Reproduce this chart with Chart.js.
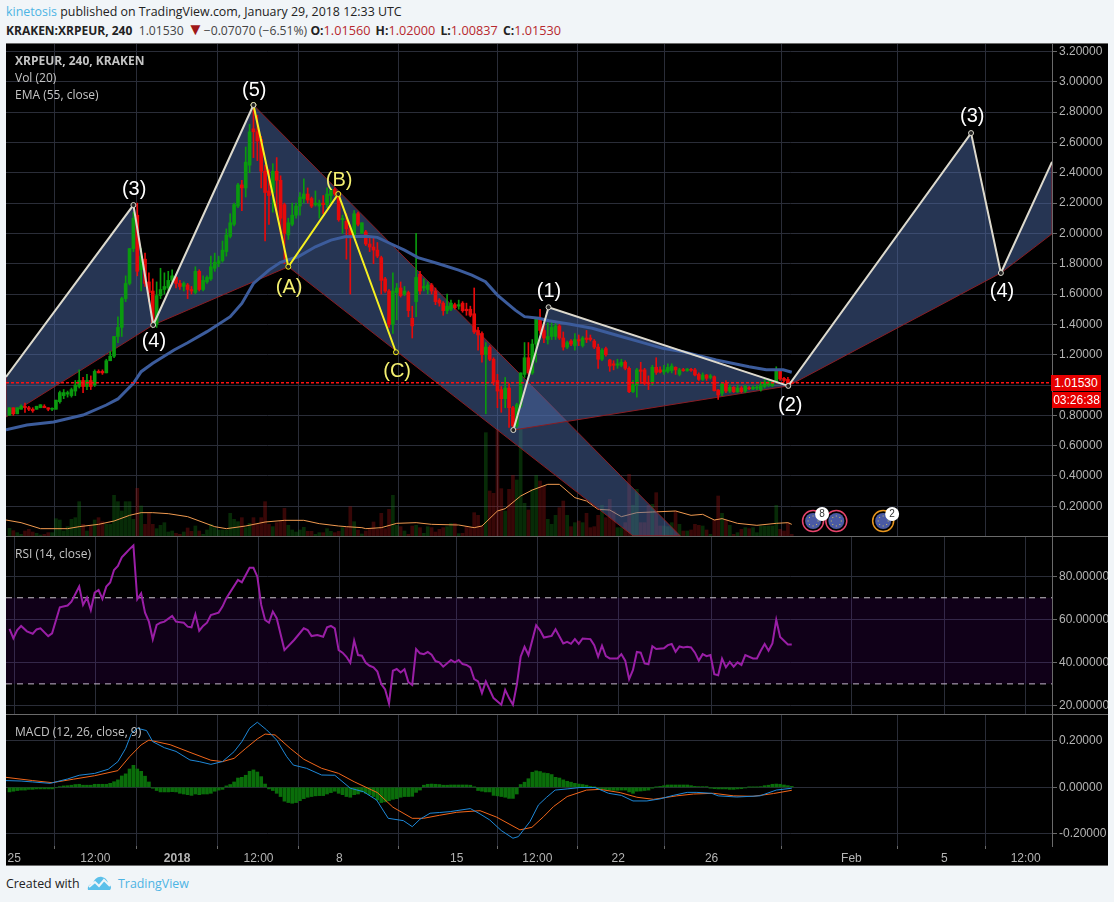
<!DOCTYPE html>
<html>
<head>
<meta charset="utf-8">
<title>XRPEUR</title>
<script src="https://cdn.jsdelivr.net/npm/chart.js@4"></script>
<style>
html, body { margin: 0; padding: 0; background: #f1f5f8; width: 1114px; height: 902px; overflow: hidden; }
body { position: relative; font-family: "Open Sans", sans-serif; font-size: 12.4px; color: #222; }
.abs { position: absolute; white-space: nowrap; }
#board { position: absolute; left: 6px; top: 43px; width: 1102px; height: 822px; background: #000; }
canvas { position: absolute; left: 6px; }
.sep { position: absolute; left: 6px; width: 1102px; height: 1px; background: #6a6a6a; }
.leg { color: #c4c4c4; font-size: 12px; }
.box { background: #e60000; color: #fff; font: 12px "Liberation Sans", sans-serif; text-align: center; }
.red { color: #b7282e; font-size: 12.7px; margin-right: 2px; }
.gray { color: #444; }
</style>
</head>
<body>
<div class="abs" style="left:6px;top:3px"><span style="color:#4db4e4">kinetosis</span> published on TradingView.com, January 29, 2018 12:33 UTC</div>
<div class="abs" style="left:6px;top:21px;font-size:12.2px"><b style="font-size:12px">KRAKEN:XRPEUR, 240</b> &nbsp;<span class="gray">1.01530</span> <span style="color:#a01818;font-size:17px;line-height:12px">&#9660;</span><span class="gray">&minus;0.07070 (&minus;6.51%)</span> <b>O:</b><span class="red">1.01560</span> <b>H:</b><span class="red">1.02000</span> <b>L:</b><span class="red">1.00837</span> <b>C:</b><span class="red">1.01530</span></div>

<div id="board"></div>
<canvas id="mainPane" width="1102" height="493" style="top:43px"></canvas>
<canvas id="rsiPane" width="1102" height="178" style="top:536px"></canvas>
<canvas id="macdPane" width="1102" height="151" style="top:714px"></canvas>
<div class="sep" style="top:43px"></div>
<div class="sep" style="top:536px"></div>
<div class="sep" style="top:714px"></div>
<div class="sep" style="top:865px"></div>

<div class="abs leg" style="left:15px;top:52px"><b>XRPEUR, 240, KRAKEN</b></div>
<div class="abs leg" style="left:15px;top:69px">Vol (20)</div>
<div class="abs leg" style="left:15px;top:86px">EMA (55, close)</div>
<div class="abs leg" style="left:15px;top:545px">RSI (14, close)</div>
<div class="abs leg" style="left:15px;top:723px">MACD (12, 26, close, 9)</div>

<div class="abs box" style="left:1051px;top:375px;width:50px;height:16px;line-height:16px">1.01530</div>
<div class="abs box" style="left:1052px;top:392px;width:49px;height:16px;line-height:16px">03:26:38</div>

<div class="abs" style="left:6px;top:875px">Created with</div>
<svg class="abs" style="left:87px;top:875px" width="25" height="16" viewBox="0 0 25 16"><path d="M1 15 C0 11 3 9 6 9 C7 4 11 1 15 2 C19 3 21 6 21 9 C24 10 25 13 23 15 Z" fill="#5cc0ea"/><path d="M2 12 L8 7 L12 11 L17 5 L23 11" fill="none" stroke="#f1f5f8" stroke-width="2"/></svg>
<div class="abs" style="left:118px;top:875px;color:#4db4e4">TradingView</div>

<script>
// candles, one per 4h bar
const opens = [
  .80,.85,.81,.84,.86,.85,.84,.84,.85,.86,
  .85,.84,.84,.89,.93,.94,.93,.96,.99,1.03,
  .99,1.03,1.0,1.09,1.09,1.08,1.16,1.19,1.32,1.38,
  1.57,1.67,1.90,2.12,1.76,1.83,1.68,1.62,1.40,1.59,
  1.63,1.64,1.69,1.71,1.67,1.65,1.66,1.63,1.61,1.75,
  1.63,1.68,1.70,1.77,1.80,1.82,1.88,1.98,2.06,2.18,
  2.32,2.30,2.45,2.69,2.67,2.62,2.41,2.28,2.27,2.41,
  2.35,2.19,1.99,2.06,2.12,2.18,2.23,2.26,2.23,2.19,
  2.18,2.2,2.19,2.25,2.29,2.26,2.09,2.08,2.03,1.98,
  2.13,2.0,2.01,1.93,1.91,1.89,1.84,1.7,1.62,1.4,
  1.61,1.64,1.6,1.61,1.44,1.55,1.73,1.64,1.63,1.66,
  1.62,1.56,1.54,1.49,1.5,1.53,1.52,1.54,1.5,1.5,
  1.47,1.36,1.34,1.2,1.25,1.17,1.03,.97,.91,.98,
  .85,.73,.86,1.07,1.18,1.08,1.27,1.44,1.36,1.3,
  1.32,1.32,1.39,1.31,1.25,1.29,1.26,1.3,1.26,1.31,
  1.31,1.29,1.25,1.17,1.24,1.165,1.14,1.13,1.13,1.15,
  1.11,.956,1.0,1.1,1.1,1.015,1.02,1.117,1.1,1.086,
  1.09,1.095,1.117,1.07,1.1,1.095,1.1,1.1,1.07,1.037,
  1.066,1.05,1.055,.967,.945,1.01,.96,.985,.956,.98,
  .96,.98,.975,.98,.97,.99,1.0,.995,1.02,1.09,
  1.044,1.037,1.0156
];
const highs = [
  .85,.85,.85,.87,.88,.86,.85,.86,.87,.87,
  .85,.85,.90,.96,.97,.96,.98,1.03,1.10,1.05,
  1.07,1.06,1.10,1.10,1.10,1.17,1.22,1.32,1.45,1.58,
  1.72,1.90,2.14,2.20,1.90,1.87,1.74,1.70,1.68,1.77,
  1.74,1.75,1.76,1.73,1.69,1.68,1.67,1.65,1.78,1.76,
  1.72,1.72,1.85,1.87,1.85,1.95,2.03,2.13,2.20,2.33,
  2.35,2.57,2.72,2.84,2.78,2.64,2.45,2.42,2.46,2.50,
  2.38,2.2,2.1,2.2,2.2,2.27,2.36,2.3,2.24,2.28,
  2.22,2.25,2.3,2.3,2.3,2.27,2.12,2.13,2.05,2.15,
  2.14,2.07,2.02,1.97,1.97,1.94,1.85,1.71,1.63,1.74,
  1.67,1.68,1.65,1.62,1.52,2.0,1.75,1.7,1.68,1.67,
  1.64,1.57,1.55,1.6,1.56,1.54,1.56,1.55,1.54,1.52,
  1.64,1.38,1.35,1.28,1.26,1.18,1.07,.99,1.05,1.01,
  .86,.88,1.08,1.28,1.28,1.3,1.44,1.5,1.41,1.41,
  1.42,1.41,1.4,1.35,1.29,1.3,1.34,1.33,1.32,1.36,
  1.33,1.3,1.27,1.24,1.25,1.17,1.16,1.17,1.17,1.16,
  1.12,1.03,1.11,1.15,1.11,1.06,1.13,1.18,1.12,1.13,
  1.14,1.14,1.12,1.11,1.11,1.11,1.11,1.11,1.08,1.08,
  1.07,1.07,1.06,.97,1.01,1.03,1.0,.99,1.0,.99,
  1.0,.99,.995,1.0,1.02,1.04,1.04,1.03,1.12,1.1,
  1.05,1.05,1.02
];
const lows = [
  .80,.80,.81,.84,.82,.83,.82,.84,.85,.85,
  .83,.83,.84,.88,.91,.92,.92,.93,.98,.95,
  .97,.97,.99,1.08,1.07,1.08,1.16,1.18,1.28,1.32,
  1.55,1.66,1.88,1.72,1.62,1.65,1.55,1.39,1.38,1.57,
  1.60,1.62,1.67,1.64,1.63,1.62,1.57,1.60,1.60,1.62,
  1.62,1.67,1.69,1.75,1.78,1.81,1.85,1.97,2.05,2.17,
  2.15,2.24,2.40,2.50,2.48,2.30,1.95,2.06,2.14,2.13,
  2.00,1.8,1.96,2.05,2.1,2.12,2.2,2.2,2.17,2.18,
  2.1,2.13,2.17,2.2,2.25,2.08,2.0,1.83,1.6,1.97,
  2.05,2.0,1.92,1.88,1.8,1.84,1.6,1.61,1.38,1.34,
  1.43,1.58,1.59,1.45,1.31,1.45,1.6,1.62,1.6,1.6,
  1.53,1.52,1.46,1.47,1.49,1.5,1.5,1.48,1.46,1.45,
  1.34,1.23,1.15,.81,1.16,1.0,.85,.82,.85,.72,
  .71,.72,.85,1.05,1.07,1.07,1.15,1.34,1.28,1.27,
  1.3,1.3,1.3,1.23,1.24,1.26,1.23,1.26,1.25,1.28,
  1.29,1.24,1.11,1.16,1.19,1.09,1.1,1.11,1.12,1.1,
  .95,.95,.92,1.01,1.0,.97,1.0,1.07,1.08,1.07,
  1.08,1.08,1.07,1.06,1.09,1.09,1.09,1.06,1.03,1.03,
  1.03,1.04,.96,.905,.93,.95,.95,.95,.95,.95,
  .95,.97,.97,.97,.96,.98,.99,.99,1.02,1.03,
  1.02,1.0,1.00837
];
const closes = [
  .85,.81,.85,.86,.85,.84,.83,.86,.87,.85,
  .84,.84,.90,.95,.95,.95,.97,1.0,1.03,.99,
  1.03,.99,1.09,1.08,1.08,1.16,1.19,1.32,1.38,1.57,
  1.67,1.90,2.10,1.75,1.85,1.67,1.61,1.40,1.59,1.63,
  1.65,1.69,1.72,1.67,1.65,1.67,1.63,1.62,1.75,1.63,
  1.69,1.71,1.78,1.81,1.82,1.89,1.99,2.07,2.19,2.32,
  2.30,2.47,2.67,2.67,2.61,2.41,2.27,2.25,2.41,2.35,
  2.10,2.0,2.07,2.12,2.18,2.24,2.26,2.22,2.18,2.2,
  2.2,2.19,2.26,2.29,2.26,2.09,2.1,2.03,1.99,2.13,
  2.06,2.07,1.93,1.91,1.89,1.85,1.69,1.62,1.4,1.62,
  1.64,1.59,1.62,1.49,1.39,1.71,1.62,1.65,1.66,1.62,
  1.55,1.54,1.49,1.52,1.54,1.51,1.53,1.49,1.49,1.46,
  1.35,1.33,1.2,1.25,1.17,1.02,.96,.91,.98,.85,
  .73,.87,1.08,1.18,1.08,1.27,1.44,1.36,1.31,1.32,
  1.38,1.39,1.31,1.25,1.28,1.27,1.3,1.29,1.31,1.3,
  1.3,1.25,1.17,1.23,1.2,1.125,1.13,1.14,1.15,1.11,
  .956,1.0,1.1,1.09,1.01,1.007,1.117,1.083,1.086,1.1,
  1.117,1.125,1.1,1.1,1.095,1.105,1.097,1.066,1.037,1.066,
  1.044,1.06,.963,.934,1.007,.96,.985,.956,.98,.956,
  .993,.975,.985,.985,1.0,1.02,1.02,1.02,1.1,1.04,
  1.03,1.01,1.0153
];
// volume, arbitrary units (no volume scale on the chart)
const volumes = [
  23,16,10,5,15,20,12,8,3,5,10,10,
  52,48,15,28,50,55,103,35,15,30,48,55,43,35,35,122,103,75,103,103,50,143,
  90,35,68,35,22,32,40,12,15,8,5,12,24,14,30,15,5,18,35,25,
  18,18,18,68,50,43,55,25,38,55,35,55,103,35,28,40,45,83,32,18,
  12,18,26,14,14,5,10,10,22,14,10,14,25,28,88,43,18,6,15,22,
  42,20,68,22,80,122,32,28,15,5,30,32,
  25,8,28,25,12,20,25,28,38,38,7,8,28,25,70,62,30,310,135,128,
  320,142,75,140,182,168,320,98,78,140,182,165,150,50,35,62,85,105,62,28,
  40,45,40,68,25,28,62,92,55,110,75,25,25,40,185,92,140,40,40,92,
  95,130,30,30,28,40,75,35,15,15,18,35,32,30,18,5,48,120,68,48,
  32,5,10,20,25,22,25,10,30,30,30,30,92,20,15,40,5
];
const volMaBars = [-.9,3,8,15,18,23,27,31,34,37,41,46,53,56,61,66,71,76,80,85,87,91,92,96,100,105,109,116,120,122,126,128,132,135,139,142,146,149,152,155,158,162,166,172,176,179,182,184,188,193,198,201,202];
const volMaValues = [48,40,22,22,28,35,45,62,70,70,67,58,28,22,30,42,47,47,37,30,28,25,22,25,38,40,35,33,25,30,75,82,120,138,155,155,115,105,80,78,58,70,72,75,62,65,48,52,38,32,38,40,35];

const emaBars = [-.9,4.5,11.4,19,25,28,32,34,37,42.5,46,51,57,60,63,67,70,74.5,79,83,86.6,92,95,98.6,102,105.5,110.8,116,119.4,122.9,126,130.6,133,136.7,139.3,144.5,150.5,156.6,162.6,168.7,173.9,182.5,191,195.4,199.8,202];
const emaValues = [.705,.736,.756,.802,.868,.908,1.011,1.088,1.143,1.231,1.279,1.352,1.451,1.538,1.67,1.758,1.809,1.846,1.912,1.956,1.978,1.982,1.974,1.93,1.89,1.84,1.80,1.758,1.725,1.681,1.593,1.494,1.451,1.44,1.424,1.402,1.374,1.33,1.286,1.242,1.22,1.165,1.12,1.10,1.10,1.084];

const rsiBars = [0,1,2,3,4.5,6,7,8,10,11,13,15,16,18,19,20,21,22,23,24,25,26,27,28,29,30,31,32,33,34,35,36,37,38,39,40,42,43,45,46,47,48,49,50,51,52,54,55,56,59,60,62,63,64,65,66,67,68,69,71,73.5,76,77,78,79.5,81,82,83,84,85,86,87,88,89,90,91,92,93,94,95,96,97,98,99,100,101,102,103,104,105,106,107,108,109,110,111,112,114,115,116,117,118,119,120,121,122,123,125,127,128,129,130,131,132,133,134,136,137,138,140,141,143,144,145,146,147,148,150,151,152,153,154,155,157,158,159,160,161,162,163,164,165,166,167,169,170,171,172,173,174,175,176,177,178,179,180,181,182,183,184,185,186,187,188,189,190,192,193,194,195,196,197,198,199,201,202];
const rsiValues = [55.5,51.2,55,56.9,54.4,53.3,55.3,55.8,52.2,53.5,65.6,66.4,68.2,75.2,66.7,70.1,64.3,72.4,73.6,69.5,75.2,77.1,82.9,84.8,88.8,90.7,92.6,94.3,69.3,72.1,63.1,58.9,50.7,57.4,58.4,58.9,61.6,58.9,58.4,56.6,56.3,62.3,54.7,56.9,58.4,62,63.1,65.9,69.8,78.3,77.2,83.9,83.9,79.8,66.7,59.7,58.4,63.6,60.5,45.7,50.4,55.8,55,52.2,52.7,51.9,56.3,56.9,55.8,45.7,44.5,42.6,39.8,50.1,43.4,43.1,39.8,38.4,37.7,35.7,29.9,27.4,20.9,36.1,36.9,35.3,36.8,30.8,29.5,46.2,44.2,43.8,44.8,43.5,40.6,40,38,41.1,40,41.1,39.2,38.8,37.7,32.2,31.1,25.7,31.1,23.4,20.3,27.2,23.4,20.3,29.5,42.6,47.2,43.4,57.2,54.9,51.5,52.3,55.4,48.8,49.5,48.6,50.8,48.6,51.1,50.8,48,42.6,47.7,42.9,41.8,41.8,43.8,40.8,32.2,36.5,44.8,44.5,39.5,39.1,47.5,46.2,46.5,48,48.5,44.9,47.4,46.9,47.2,46.9,44.5,40.8,43.8,42.9,43.4,34.5,34,41.7,37.7,40.2,38,40,38.8,43.4,41.8,41.8,45.4,48.5,45.4,48.8,59.8,51.8,48.3,48.3];
const rsiUpper = 70, rsiLower = 30;

const macdBars = [-.9,3,6,10.5,15,18,22,25.5,28,30,31.5,33,35.4,37,40,43,46.6,49,52,55,58,60,62,64,66.4,69,71.6,73.3,76.7,80.6,84,88,91.4,94.8,97.8,101.7,104,106,108.6,111,113.8,119,121.5,124,127,130,131.4,134.4,136.6,138.7,140.9,144,147.3,151.2,154.7,158,161,164.6,168,171.4,175,177.5,181.3,183,187.8,193.8,198,202];
const macdValues = [.029,.027,.023,.017,.036,.052,.06,.078,.111,.168,.233,.255,.245,.197,.171,.155,.118,.111,.099,.111,.154,.197,.255,.281,.248,.204,.132,.096,.082,.053,.052,-.004,-.019,-.055,-.134,-.144,-.17,-.138,-.112,-.109,-.105,-.092,-.115,-.141,-.187,-.22,-.213,-.148,-.076,-.043,-.012,-.007,-.001,-.001,-.026,-.035,-.059,-.059,-.05,-.035,-.022,-.022,-.026,-.037,-.042,-.037,-.012,-.004];
const signalBars = [-.9,6,11,16.5,22,28,31,34,36,41.5,46.6,52,55,58,61,64,66,68.6,72.5,76,80.6,85,89,95,99,104,106.9,111,115.5,121.5,125.8,131.8,134.9,137.9,140.5,144,149,152.5,157.7,162,166.3,172.3,176.6,181.8,187,192,197.3,202];
const signalValues = [.043,.029,.02,.035,.05,.072,.132,.183,.204,.184,.151,.117,.111,.125,.168,.209,.23,.226,.168,.121,.082,.06,.024,-.023,-.086,-.134,-.134,-.121,-.108,-.101,-.129,-.184,-.173,-.127,-.083,-.04,-.012,-.009,-.023,-.043,-.052,-.037,-.029,-.026,-.037,-.039,-.027,-.013];
// histogram in thousandths
const macdHist = [
  -20,-17,-14,-12,-12,-9,-9,-7,-7,-7,-7,-7,-2,3,6,7,9,12,13,9,
  9,9,13,13,13,13,17,24,32,49,58,79,95,79,69,48,23,-4,-14,-20,
  -20,-20,-19,-20,-26,-29,-32,-35,-29,-32,-29,-29,-26,-17,-12,-9,6,12,23,40,
  43,52,69,75,66,46,14,-7,-14,-26,-40,-60,-66,-69,-66,-58,-49,-43,-40,-37,
  -36,-36,-29,-23,-17,-26,-32,-40,-43,-32,-29,-20,-26,-32,-40,-55,-66,-63,-58,-52,
  -49,-43,-40,-40,-39,-22,-12,9,13,14,13,12,9,9,10,10,10,10,10,9,
  1,-14,-17,-20,-20,-35,-37,-40,-43,-48,-48,-29,12,22,37,65,71,68,62,60,
  55,43,40,32,26,22,17,14,12,9,4,1,-6,-7,-10,-12,-13,-13,-12,-12,
  -20,-26,-17,-16,-14,-12,-4,1,4,7,10,10,10,10,10,10,7,4,3,3,
  3,-4,-6,-7,-7,-7,-9,-9,-7,-6,-3,1,1,1,3,7,9,13,14,13,
  10,7,4
];

const priceTicks = [.2,.4,.6,.8,1,1.2,1.4,1.6,1.8,2,2.2,2.4,2.6,2.8,3,3.2];
const rsiTicks = [20,40,60,80];
const macdTicks = [-.2,0,.2];
const xTickBars = [1.24,22.16,43.3,64.3,85.2,115.5,136.3,157.2,181.3,217.4,241.4,262.4];
const xTickLabels = ['25','12:00','2018','12:00','8','15','12:00','22','26','Feb','5','12:00'];
const lastPrice = 1.0153;

// elliott wave drawing, [bar, price]
const whiteLegA = [[-.9,1.053],[32,2.187],[37.1,1.396],[63,2.847]];
const yellowLeg = [[63,2.847],[72,1.78],[84.9,2.26],[99.8,1.216]];
const whiteLegB = [[130.1,.703],[139.2,1.513],[201.1,.994],[248.3,2.662],[256,1.739],[269.2,2.472]];
const zones = [
  [[-.9,1.053],[32,2.187],[37.1,1.396],[-.9,.789]],
  [[37.1,1.396],[63,2.847],[72,1.78]],
  [[63,2.847],[173.2,.005],[161,.005],[72,1.78]],
  [[130.1,.703],[139.2,1.513],[201.1,.994]],
  [[201.1,.994],[248.3,2.662],[256,1.739]],
  [[256,1.739],[269.2,2.472],[269.2,1.997]]
];
const waveTexts = ['(3)','(4)','(5)','(A)','(B)','(C)','(1)','(2)','(3)','(4)'];
const waveTextBars = [32.2,37.3,63.2,72.2,85.1,100.1,139.3,201.6,248.6,256.3];
const waveTextPrices = [2.287,1.285,2.946,1.646,2.352,1.086,1.614,.862,2.768,1.62];
const waveTextColors = ['#fff','#fff','#fff','#f4f070','#f4f070','#f4f070','#fff','#fff','#fff','#fff'];

// economic events row under the candles
const eventBars = [207.5,213.5,225.6];
const eventColors = ['#e8456c','#e8456c','#e8961e'];
const eventBadges = ['8','','2'];

const GRID = '#2a2d38';
const AXIS = '#6a6a6a';
const TICK = '#b4b4b4';
const FONT = '"Liberation Sans", sans-serif';
const xMin = -.9, xMax = 269.2;

const pts = (xs, ys) => xs.map((x, i) => ({ x: x, y: ys[i] }));
const pairs = a => a.map(p => ({ x: p[0], y: p[1] }));

function xScale(showLabels) {
  return {
    type: 'linear', min: xMin, max: xMax, offset: false, bounds: 'data',
    grid: { color: GRID, drawTicks: showLabels, tickLength: 3, tickColor: AXIS },
    border: { display: false },
    ticks: {
      display: showLabels, autoSkip: false, maxRotation: 0, padding: 2, color: TICK,
      font: c => ({ family: FONT, size: 12, weight: c.index === 2 ? 'bold' : 'normal' }),
      callback: (v, i) => xTickLabels[i]
    },
    afterBuildTicks: s => { s.ticks = xTickBars.map(v => ({ value: v })); },
    afterFit: s => {
      s.height = showLabels ? 19 : 0;
      s.paddingLeft = 0;
      s.paddingRight = 0;
    }
  };
}

function yScale(min, max, tickList, fmt) {
  return {
    position: 'right', min: min, max: max, bounds: 'data',
    grid: { color: GRID, tickLength: 5, tickColor: AXIS },
    border: { color: AXIS },
    ticks: { color: TICK, padding: 2, autoSkip: false, font: { family: FONT, size: 12 }, callback: fmt },
    afterBuildTicks: s => { s.ticks = tickList.map(v => ({ value: v })); },
    afterFit: s => {
      s.width = 56;
      s.paddingTop = 0;
      s.paddingBottom = 0;
    }
  };
}

const commonOptions = {
  responsive: false, animation: false, events: [],
  layout: { padding: 0, autoPadding: false },
  elements: { point: { radius: 0 }, line: { tension: 0 } },
  plugins: { legend: { display: false }, tooltip: { enabled: false } }
};

// polygons under the candles, texts and event icons on top
const drawingPlugin = {
  id: 'drawing',
  afterDatasetDraw(chart, args) {
    if (args.index !== 4) return;
    const x = chart.scales.x, y = chart.scales.y, ctx = chart.ctx, area = chart.chartArea;
    ctx.save();
    ctx.beginPath();
    ctx.rect(area.left, area.top, area.width, area.height);
    ctx.clip();
    zones.forEach(z => {
      ctx.beginPath();
      z.forEach((p, i) => {
        const px = x.getPixelForValue(p[0]), py = y.getPixelForValue(p[1]);
        if (i) ctx.lineTo(px, py); else ctx.moveTo(px, py);
      });
      ctx.closePath();
      ctx.fillStyle = 'rgba(75,105,165,.5)';
      ctx.fill();
      ctx.strokeStyle = '#8a1c22';
      ctx.lineWidth = 1;
      ctx.stroke();
    });
    ctx.restore();
  },
  afterDraw(chart) {
    const x = chart.scales.x, y = chart.scales.y, ctx = chart.ctx;
    ctx.save();
    ctx.textAlign = 'center';
    ctx.textBaseline = 'middle';
    ctx.font = '20px ' + FONT;
    waveTexts.forEach((t, i) => {
      ctx.fillStyle = waveTextColors[i];
      ctx.fillText(t, x.getPixelForValue(waveTextBars[i]), y.getPixelForValue(waveTextPrices[i]));
    });
    eventBars.forEach((b, i) => {
      const px = x.getPixelForValue(b), py = y.getPixelForValue(.103);
      ctx.beginPath();
      ctx.arc(px, py, 10.5, 0, Math.PI * 2);
      ctx.fillStyle = '#000';
      ctx.fill();
      ctx.lineWidth = 1.5;
      ctx.strokeStyle = eventColors[i];
      ctx.stroke();
      ctx.beginPath();
      ctx.arc(px, py, 8, 0, Math.PI * 2);
      ctx.fillStyle = '#4a5aa4';
      ctx.fill();
      ctx.fillStyle = '#d8c858';
      for (let a = 0; a < 8; a++) {
        ctx.fillRect(px + 5 * Math.cos(a * Math.PI / 4) - .5, py + 5 * Math.sin(a * Math.PI / 4) - .5, 1, 1);
      }
    });
    eventBars.forEach((b, i) => {
      if (!eventBadges[i]) return;
      const px = x.getPixelForValue(b) + 9, py = y.getPixelForValue(.103) - 7;
      ctx.beginPath();
      ctx.arc(px, py, 7, 0, Math.PI * 2);
      ctx.fillStyle = '#fff';
      ctx.fill();
      ctx.fillStyle = '#333';
      ctx.font = '10px ' + FONT;
      ctx.fillText(eventBadges[i], px, py + .5);
    });
    ctx.restore();
  }
};

function waveLine(points, color, lastHasDot, firstHasDot) {
  return {
    type: 'line', data: pairs(points), borderColor: color, borderWidth: 2, order: 0,
    pointBackgroundColor: '#222', pointBorderColor: color, pointBorderWidth: 1,
    pointRadius: c => {
      if (c.dataIndex === 0 && !firstHasDot) return 0;
      if (c.dataIndex === points.length - 1 && !lastHasDot) return 0;
      return 2.5;
    }
  };
}

const barIndex = closes.map((c, i) => i);
const isUp = barIndex.map(i => closes[i] >= opens[i]);

new Chart(document.getElementById('mainPane'), {
  type: 'bar',
  data: {
    datasets: [
      waveLine(whiteLegA, '#dcdace', true, false),
      waveLine(yellowLeg, '#f6f020', true, true),
      waveLine(whiteLegB, '#dcdace', false, true),
      { type: 'line', data: pts([xMin, xMax], [lastPrice, lastPrice]), borderColor: '#ff1010', borderWidth: 1.5, borderDash: [3, 2], order: 1 },
      // index 4: polygons are painted right after this one
      { type: 'line', data: pts(volMaBars, volMaValues), yAxisID: 'yVol', borderColor: '#f09a50', borderWidth: 1, order: 6 },
      { type: 'line', data: pts(emaBars, emaValues), borderColor: '#3c5c9c', borderWidth: 3, order: 2 },
      { data: barIndex.map(i => ({ x: i, y: [opens[i], closes[i]] })), grouped: false, barThickness: 3, minBarLength: 1,
        backgroundColor: isUp.map(u => u ? '#0a9a0e' : '#e60a0a'), order: 3 },
      { data: barIndex.map(i => ({ x: i, y: [lows[i], highs[i]] })), grouped: false, barThickness: 1,
        backgroundColor: isUp.map(u => u ? '#0a9a0e' : '#e60a0a'), order: 4 },
      { data: barIndex.map(i => ({ x: i, y: volumes[i] })), yAxisID: 'yVol', grouped: false, barThickness: 3,
        backgroundColor: isUp.map(u => u ? 'rgba(20,130,20,.33)' : 'rgba(170,20,20,.33)'), order: 7 }
    ]
  },
  options: Object.assign({}, commonOptions, {
    scales: {
      x: xScale(false),
      y: yScale(.004, 3.256, priceTicks, v => v === 1 ? '' : v.toFixed(5)),
      yVol: { display: false, min: 0, max: 1479 }
    }
  }),
  plugins: [drawingPlugin]
});

new Chart(document.getElementById('rsiPane'), {
  type: 'line',
  data: {
    datasets: [
      { data: pts(rsiBars, rsiValues), borderColor: '#9a1ea6', borderWidth: 2, order: 0 },
      { data: pts([xMin, xMax], [rsiUpper, rsiUpper]), borderColor: '#c9c4cc', borderWidth: 1, borderDash: [6, 5], order: 1,
        fill: { target: { value: rsiLower } }, backgroundColor: 'rgba(128,0,200,.12)' },
      { data: pts([xMin, xMax], [rsiLower, rsiLower]), borderColor: '#c9c4cc', borderWidth: 1, borderDash: [6, 5], order: 1 }
    ]
  },
  options: Object.assign({}, commonOptions, {
    scales: { x: xScale(false), y: yScale(16, 98.7, rsiTicks, v => v.toFixed(5)) }
  })
});

new Chart(document.getElementById('macdPane'), {
  type: 'bar',
  data: {
    datasets: [
      { type: 'line', data: pts(macdBars, macdValues), borderColor: '#1e88d8', borderWidth: 1, order: 0 },
      { type: 'line', data: pts(signalBars, signalValues), borderColor: '#f2661a', borderWidth: 1, order: 1 },
      { data: macdHist.map((v, i) => ({ x: i, y: v / 1000 })), grouped: false, barThickness: 3, backgroundColor: '#0a6e0a', order: 2 }
    ]
  },
  options: Object.assign({}, commonOptions, {
    scales: { x: xScale(true), y: yScale(-.2536, .3166, macdTicks, v => v.toFixed(5)) }
  })
});
</script>
</body>
</html>
